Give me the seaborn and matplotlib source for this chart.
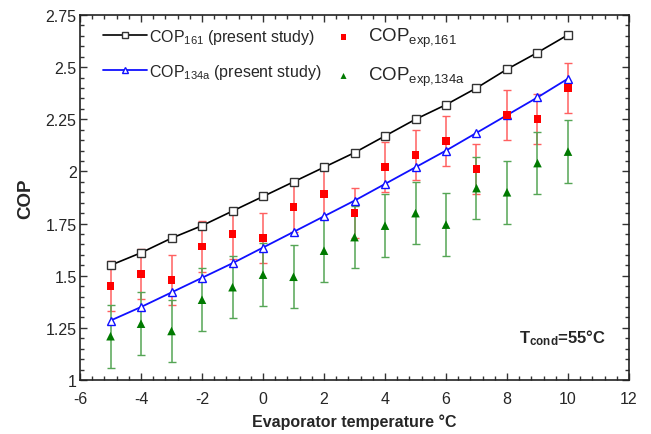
import numpy as np
import pandas as pd
import matplotlib
matplotlib.use("Agg")
import matplotlib.pyplot as plt
import seaborn as sns
from matplotlib.ticker import MultipleLocator

# --- datos ---
t_evap = [-5, -4, -3, -2, -1, 0, 1, 2, 3, 4, 5, 6, 7, 8, 9, 10]
cop_161 = [1.55, 1.61, 1.68, 1.74, 1.81, 1.88, 1.95, 2.02, 2.09, 2.17, 2.25, 2.32, 2.40, 2.49, 2.57, 2.655]
cop_134a = [1.285, 1.35, 1.42, 1.49, 1.56, 1.635, 1.71, 1.785, 1.86, 1.94, 2.02, 2.10, 2.185, 2.27, 2.355, 2.445]
cop_exp_161 = [1.45, 1.51, 1.48, 1.64, 1.70, 1.68, 1.83, 1.89, 1.80, 2.02, 2.08, 2.145, 2.01, 2.27, 2.25, 2.40]
cop_exp_134a = [1.21, 1.27, 1.235, 1.385, 1.445, 1.505, 1.495, 1.62, 1.685, 1.74, 1.80, 1.745, 1.92, 1.90, 2.04, 2.095]
err_161 = 0.12
err_134a = 0.15

df = pd.DataFrame({
    't': t_evap,
    'cop_161': cop_161,
    'cop_134a': cop_134a,
    'exp_161': cop_exp_161,
    'exp_134a': cop_exp_134a,
})

sns.set_style("ticks")
plt.rcParams['font.family'] = ['Liberation Sans', 'DejaVu Sans']
plt.rcParams['mathtext.fontset'] = 'custom'
plt.rcParams['mathtext.rm'] = 'Liberation Sans'
plt.rcParams['mathtext.it'] = 'Liberation Sans'
plt.rcParams['mathtext.bf'] = 'Liberation Sans:bold'
plt.rcParams['axes.unicode_minus'] = False

fig = plt.figure(figsize=(6.51, 4.35), dpi=100)
ax = fig.add_axes([0.1229, 0.1241, 0.8433, 0.8391])

# barras de error (detras)
ax.errorbar(df['t'], df['exp_161'], yerr=err_161, fmt='none', ecolor='#ff6060',
            elinewidth=1.1, capsize=3, capthick=1.0, zorder=2)
ax.errorbar(df['t'], df['exp_134a'], yerr=err_134a, fmt='none', ecolor='#55a555',
            elinewidth=1.1, capsize=3, capthick=1.0, zorder=2)

# modelo
sns.lineplot(data=df, x='t', y='cop_161', ax=ax, color='black', lw=1.2,
             marker='s', markersize=5.5, markerfacecolor='white', markeredgecolor='#333333',
             markeredgewidth=1.0, label='COP$_{161}$ (present study)', zorder=4)
sns.lineplot(data=df, x='t', y='cop_134a', ax=ax, color='#1010ff', lw=1.3,
             marker='^', markersize=5.5, markerfacecolor='white', markeredgecolor='#1010ff',
             markeredgewidth=1.0, label='COP$_{134a}$ (present study)', zorder=4)

# experimental
sns.scatterplot(data=df, x='t', y='exp_161', ax=ax, color='#ff0000', marker='s', s=32,
                edgecolor='none', label='COP$_{\\mathrm{exp{,}161}}$', zorder=5)
sns.scatterplot(data=df, x='t', y='exp_134a', ax=ax, color='#007a00', marker='^', s=38,
                edgecolor='none', label='COP$_{\\mathrm{exp{,}134a}}$', zorder=5)

ax.set_xlim(-6, 12)
ax.set_ylim(1, 2.75)
ax.xaxis.set_major_locator(MultipleLocator(2))
ax.xaxis.set_minor_locator(MultipleLocator(0.4))
ax.yaxis.set_minor_locator(MultipleLocator(0.05))
ax.set_yticks([1, 1.25, 1.5, 1.75, 2, 2.25, 2.5, 2.75])
ax.set_yticklabels(['1', '1.25', '1.5', '1.75', '2', '2.25', '2.5', '2.75'])
ax.tick_params(which='both', direction='in', top=True, right=True, labelsize=11.5,
               color='#333333', width=1.0)
ax.tick_params(which='major', length=5)
ax.tick_params(which='minor', length=3)
ax.tick_params(axis='x', pad=8)
ax.tick_params(axis='y', pad=2.5)
for sp in ax.spines.values():
    sp.set_linewidth(1.2)
    sp.set_color('#222222')

ax.set_xlabel('Evaporator temperature °C', fontsize=11.5, fontweight='bold', labelpad=5)
ax.set_ylabel('COP', fontsize=13.5, fontweight='bold', labelpad=8)

ax.text(8.4, 1.205, r'$\mathbf{T_{cond}}$=55°C', fontsize=12, fontweight='bold', va='center')

h, l = ax.get_legend_handles_labels()
leg = ax.legend(h, l, ncol=2, loc='upper left', bbox_to_anchor=(0.03, 0.988),
                frameon=False, fontsize=11.5, borderaxespad=0,
                handlelength=2.75, labelspacing=1.0, columnspacing=0.0,
                handletextpad=0.15, markerscale=0.7)
for txt in leg.get_texts()[2:]:
    txt.set_fontsize(13.5)

plt.savefig('out.png', dpi=100)
plt.close()
